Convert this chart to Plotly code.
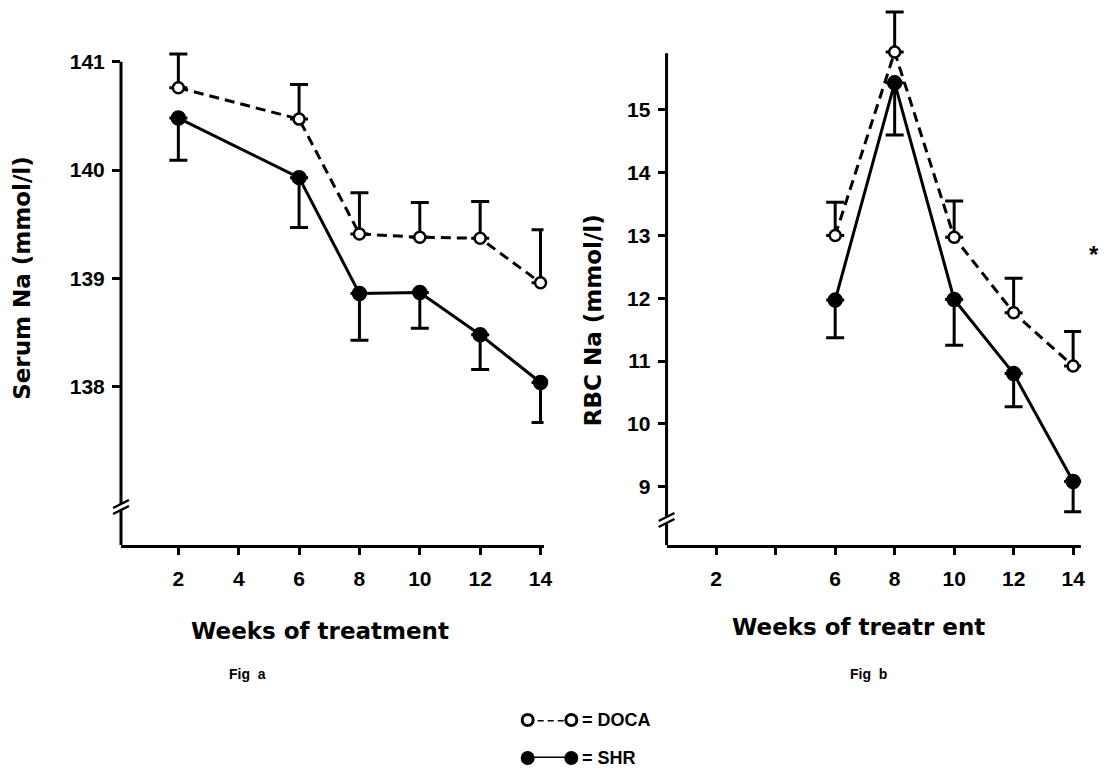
import plotly.graph_objects as go

# ---------------- data ----------------
weeks_a = [2, 6, 8, 10, 12, 14]
doca_a = [140.76, 140.47, 139.41, 139.38, 139.37, 138.96]
doca_a_err = [0.31, 0.32, 0.38, 0.32, 0.34, 0.49]
shr_a = [140.48, 139.93, 138.86, 138.87, 138.48, 138.04]
shr_a_err = [0.39, 0.46, 0.43, 0.33, 0.32, 0.37]

weeks_b = [6, 8, 10, 12, 14]
doca_b = [13.0, 15.92, 12.97, 11.77, 10.92]
doca_b_err = [0.53, 0.64, 0.58, 0.55, 0.55]
shr_b = [11.97, 15.43, 11.98, 10.8, 9.08]
shr_b_err = [0.6, 0.83, 0.73, 0.53, 0.48]

xticks = [2, 4, 6, 8, 10, 12, 14]
xticklabels_a = ["2", "4", "6", "8", "10", "12", "14"]
xticklabels_b = ["2", "", "6", "8", "10", "12", "14"]
yticks_a = [138, 139, 140, 141]
yticks_b = [9, 10, 11, 12, 13, 14, 15]

legend_names = ["DOCA", "SHR"]

# ---------------- layout helpers ----------------
W, H = 1109, 772
def px(p):
    return p / W
def py(p):
    return 1 - p / H

BLACK = "black"
TICKFONT = dict(family="Liberation Sans, Arial, sans-serif", size=21, color=BLACK, weight="bold")
TITLEFONT = dict(family="DejaVu Sans, sans-serif", size=23, color=BLACK)

ya_range = [136.54, 141.2]
yb_range = [8.07, 16.67]

fig = go.Figure()

def add_series(x, y, err, up, xa, ya, filled):
    fig.add_trace(go.Scatter(
        x=x, y=y, xaxis=xa, yaxis=ya, mode="lines+markers",
        line=dict(color=BLACK, width=3, dash="solid" if filled else "10px,6px"),
        marker=dict(symbol="circle", size=13 if filled else 11,
                    color=BLACK if filled else "white",
                    line=dict(color=BLACK, width=2.5)),
        error_y=dict(type="data", symmetric=False,
                     array=err if up else [0] * len(err),
                     arrayminus=[0] * len(err) if up else err,
                     color=BLACK, thickness=3, width=9),
        cliponaxis=False, showlegend=False,
    ))

add_series(weeks_a, doca_a, doca_a_err, True, "x", "y", False)
add_series(weeks_a, shr_a, shr_a_err, False, "x", "y", True)
add_series(weeks_b, doca_b, doca_b_err, True, "x2", "y2", False)
add_series(weeks_b, shr_b, shr_b_err, False, "x2", "y2", True)

# legend glyphs on a small hidden axis
fig.add_trace(go.Scatter(
    x=[0, 1], y=[1, 1], xaxis="x3", yaxis="y3", mode="lines+markers",
    line=dict(color=BLACK, width=3, dash="6px,4px"),
    marker=dict(symbol="circle", size=11, color="white", line=dict(color=BLACK, width=3)),
    showlegend=False, cliponaxis=False, name=legend_names[0]))
fig.add_trace(go.Scatter(
    x=[0, 1], y=[0, 0], xaxis="x3", yaxis="y3", mode="lines+markers",
    line=dict(color=BLACK, width=3),
    marker=dict(symbol="circle", size=12, color=BLACK, line=dict(color=BLACK, width=2)),
    showlegend=False, cliponaxis=False, name=legend_names[1]))

xcommon = dict(showgrid=False, zeroline=False, showline=True, linecolor=BLACK, linewidth=3,
               ticks="outside", ticklen=7, tickwidth=3, tickcolor=BLACK,
               tickfont=TICKFONT, tickvals=xticks, ticklabelstandoff=6)
ycommon = dict(showgrid=False, zeroline=False, showline=False,
               ticks="outside", ticklen=8, tickwidth=3, tickcolor=BLACK,
               tickfont=TICKFONT, ticklabelstandoff=3)

fig.update_layout(
    width=W, height=H, margin=dict(l=0, r=0, t=0, b=0),
    paper_bgcolor="white", plot_bgcolor="white",
    xaxis=dict(domain=[px(122), px(548)], range=[0.1, 14.1], anchor="y",
               ticktext=xticklabels_a, **xcommon),
    yaxis=dict(domain=[py(545), py(40)], range=ya_range, anchor="x",
               tickvals=yticks_a, **ycommon),
    xaxis2=dict(domain=[px(672), px(1090)], range=[0.33, 14.27], anchor="y2",
                ticktext=xticklabels_b, **xcommon),
    yaxis2=dict(domain=[py(545), py(5)], range=yb_range, anchor="x2",
                tickvals=yticks_b, **ycommon),
    xaxis3=dict(domain=[px(532), px(576)], range=[0, 1], visible=False, anchor="y3"),
    yaxis3=dict(domain=[py(758), py(720)], range=[0, 1], visible=False, anchor="x3"),
)

shapes = []
# y axis lines
shapes.append(dict(type="line", xref="x domain", yref="y", x0=0, x1=0,
                   y0=ya_range[0], y1=141, line=dict(color=BLACK, width=3)))
shapes.append(dict(type="line", xref="x2 domain", yref="y2", x0=0, x1=0,
                   y0=yb_range[0], y1=15.9, line=dict(color=BLACK, width=3)))
# axis break marks
for ax_x, by in [(122, 507), (672, 520)]:
    shapes.append(dict(type="line", xref="paper", yref="paper",
                       x0=px(ax_x), x1=px(ax_x), y0=py(by + 3), y1=py(by - 3),
                       line=dict(color="white", width=5)))
    for off in (-3, 3):
        shapes.append(dict(type="line", xref="paper", yref="paper",
                           x0=px(ax_x - 8), x1=px(ax_x + 8),
                           y0=py(by + off + 4), y1=py(by + off - 4),
                           line=dict(color=BLACK, width=2.5)))
fig.update_layout(shapes=shapes)

def note(text, x, y, font, angle=0, xanchor="center"):
    return dict(text=text, xref="paper", yref="paper", x=px(x), y=py(y),
                xanchor=xanchor, yanchor="middle", textangle=angle,
                showarrow=False, font=font)

FIGFONT = dict(family="Liberation Sans, Arial", size=14, color=BLACK)
ann = [
    note("<b>Serum Na (mmol/l)</b>", 22, 278, TITLEFONT, angle=-90),
    note("<b>RBC Na (mmol/l)</b>", 598, 320, TITLEFONT, angle=-90),
    note("<b>Weeks of treatment</b>", 323, 631, TITLEFONT),
    note("<b>Weeks of treatr ent</b>", 866, 627, TITLEFONT),
    note("<b>Fig  a</b>", 250, 674, FIGFONT),
    note("<b>Fig  b</b>", 876, 674, FIGFONT),
    note("<b>*</b>", 1103, 254, dict(family="Liberation Sans", size=24, color=BLACK)),
]
for i, name in enumerate(legend_names):
    ann.append(note("<b>= " + name + "</b>", 585, 720 + 38 * i,
                    dict(family="Liberation Sans, Arial", size=18, color=BLACK),
                    xanchor="left"))
fig.update_layout(annotations=ann)

fig.write_html("out.html")
